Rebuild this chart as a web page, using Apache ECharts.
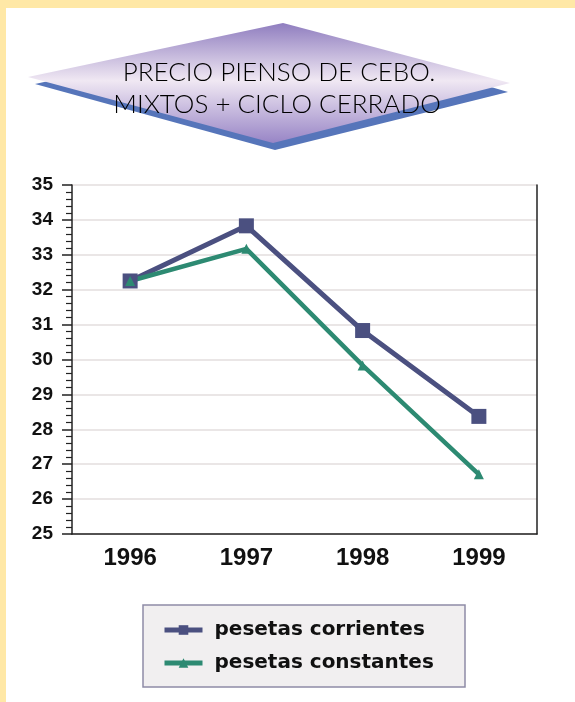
<!DOCTYPE html>
<html>
<head>
<meta charset="utf-8">
<script src="https://cdn.jsdelivr.net/npm/echarts@6/dist/echarts.min.js"></script>
<style>
  html, body { margin: 0; padding: 0; background: #FFE8A6; }
  #main { position: absolute; left: 6px; top: 8px; width: 569px; height: 694px; background: #fff; }
</style>
</head>
<body>
<div id="main"></div>
<script>
// datos
var years = ['1996', '1997', '1998', '1999'];
var corrientes = [32.25, 33.83, 30.83, 28.37];
var constantes = [32.25, 33.17, 29.83, 26.71];
var titleLines = ['PRECIO PIENSO DE CEBO.', 'MIXTOS + CICLO CERRADO'];

var myChart = echarts.init(document.getElementById('main'));
myChart.setOption({
    animation: false,
    textStyle: { fontFamily: 'Liberation Sans' },
    grid: { left: 66, right: 38, top: 177, bottom: 168 },
    // rombo del titulo
    graphic: [
        {
            type: 'polygon',
            shape: { points: [[29, 76], [284, 20], [502, 84], [269, 142]] },
            style: { fill: '#5675BA' }
        },
        {
            type: 'polygon',
            shape: { points: [[22, 69], [277, 15], [504, 75], [267, 135]] },
            style: {
                fill: new echarts.graphic.LinearGradient(0, 0, 0, 1, [
                    { offset: 0, color: '#8F7DBF' },
                    { offset: 0.48, color: '#F0E8F3' },
                    { offset: 1, color: '#9885C6' }
                ])
            }
        },
        {
            type: 'text',
            style: { text: titleLines[0], x: 273, y: 65, align: 'center', verticalAlign: 'middle',
                     font: '300 26px Lato', fill: '#000' }
        },
        {
            type: 'text',
            style: { text: titleLines[1], x: 271, y: 97, align: 'center', verticalAlign: 'middle',
                     font: '300 26px Lato', fill: '#000' }
        },
        // caja de la leyenda
        {
            type: 'rect',
            shape: { x: 137, y: 597, width: 322, height: 82 },
            style: { fill: '#F1EFF0', stroke: '#8E8CA6', lineWidth: 1.5 }
        }
    ],
    legend: {
        orient: 'vertical',
        left: 156, top: 612, padding: 0,
        itemWidth: 38, itemHeight: 12, itemGap: 13,
        lineStyle: { width: 5 },
        textStyle: { fontFamily: 'DejaVu Sans', fontWeight: 'bold', fontSize: 20, color: '#111',
                     padding: [0, 0, 0, 7] },
        data: ['pesetas corrientes', 'pesetas constantes']
    },
    xAxis: {
        type: 'category',
        data: years,
        boundaryGap: true,
        axisLine: { lineStyle: { color: '#222', width: 1.5 } },
        axisTick: { length: 11, lineStyle: { color: '#222', width: 1.5 } },
        axisLabel: { fontSize: 24, fontWeight: 'bold', color: '#111', margin: 12 }
    },
    yAxis: [
        {
            type: 'value', min: 25, max: 35, interval: 1,
            axisLine: { show: true, lineStyle: { color: '#222', width: 1.5 } },
            axisTick: { show: true, length: 10, lineStyle: { color: '#222', width: 1.5 } },
            minorTick: { show: true, splitNumber: 5, length: 6, lineStyle: { color: '#222', width: 1.2 } },
            splitLine: { lineStyle: { color: '#E3DEDE', width: 1.5 } },
            axisLabel: { fontSize: 19, fontWeight: 'bold', color: '#111', margin: 19 }
        },
        {
            type: 'value', min: 25, max: 35, interval: 1, position: 'right',
            axisLine: { show: true, lineStyle: { color: '#222', width: 1.5 } },
            axisTick: { show: false }, axisLabel: { show: false }, splitLine: { show: false }
        }
    ],
    series: [
        {
            name: 'pesetas corrientes',
            type: 'line',
            data: corrientes,
            symbol: 'rect', symbolSize: 15,
            lineStyle: { width: 5, color: '#4B5080' },
            itemStyle: { color: '#4B5080' }
        },
        {
            name: 'pesetas constantes',
            type: 'line',
            data: constantes,
            symbol: 'triangle', symbolSize: 10,
            lineStyle: { width: 4.5, color: '#2D8A72' },
            itemStyle: { color: '#2D8A72' }
        }
    ]
});
</script>
</body>
</html>
